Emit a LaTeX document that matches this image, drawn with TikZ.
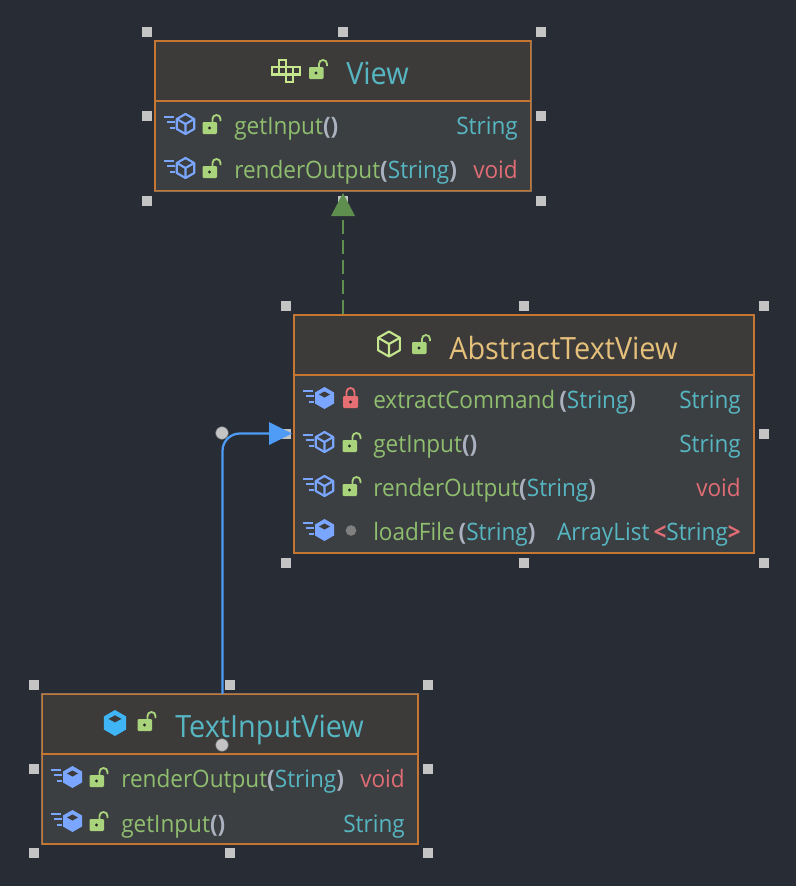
\documentclass[tikz,border=0pt]{standalone}
\usepackage{fontspec}
\setmainfont[FakeStretch=0.94]{Open Sans}
\usetikzlibrary{arrows.meta}
\definecolor{bgc}{HTML}{282C34}
\definecolor{headc}{HTML}{3C3B3A}
\definecolor{bodyc}{HTML}{3C3F41}
\definecolor{edgec}{HTML}{C57633}
\definecolor{dimedge}{HTML}{8F7158}
\definecolor{handlec}{HTML}{C4C4C4}
\definecolor{lockc}{HTML}{A9D47C}
\definecolor{lockred}{HTML}{E76F74}
\definecolor{methc}{HTML}{7BA6FF}
\definecolor{greenc}{HTML}{8FBE6F}
\definecolor{tealc}{HTML}{56B6C2}
\definecolor{redc}{HTML}{E06C75}
\definecolor{yelc}{HTML}{E5C07B}
\definecolor{parc}{HTML}{ABB2BF}
\definecolor{limec}{HTML}{C6E68E}
\definecolor{cubec}{HTML}{3FB5F5}
\definecolor{arrg}{HTML}{5F8F4E}
\definecolor{arrb}{HTML}{4E9CF5}
\newcommand{\fs}{\fontsize{18}{21}\selectfont}
\newcommand{\ft}{\fontsize{23}{27}\selectfont}
\newcommand{\G}[1]{\textcolor{greenc}{#1}}
\newcommand{\T}[1]{\textcolor{tealc}{#1}}
\newcommand{\R}[1]{\textcolor{redc}{\bfseries #1}}
\newcommand{\V}[1]{\textcolor{redc}{#1}}
\newcommand{\Pa}[1]{\textcolor{parc}{\bfseries #1}}
\tikzset{
  x=0.75pt,y=-0.75pt,
  classbox/.style={draw=edgec,line width=1.1pt,fill=bodyc,inner sep=0pt,minimum width=0pt},
  sepline/.style={draw=edgec,line width=1.5pt},
  handle/.style={fill=handlec,draw=none,minimum size=8pt,inner sep=0pt},
  dotnode/.style={circle,fill=handlec,draw=bgc!70!white,line width=.4pt,minimum size=9.5pt,inner sep=0pt},
  txt/.style={inner sep=0pt,anchor=base west,font=\fs},
  txtr/.style={inner sep=0pt,anchor=base east,font=\fs},
  titletxt/.style={inner sep=0pt,anchor=base west,font=\ft},
  pics/openlock/.style={code={
    \fill[lockc,rounded corners=.8pt] (-7.5,-3) rectangle (7,9);
    \draw[lockc,line width=1.4pt] (2.5,-3) -- (2.5,-6) arc[start angle=180,end angle=360,radius=4] -- (10.5,-4);
    \fill[headc!70!black] (-.5,3) circle[radius=1.7];
  }},
  pics/redlock/.style={code={
    \fill[lockred,rounded corners=.8pt] (-7.5,-3) rectangle (7.5,9);
    \draw[lockred,line width=1.4pt] (-4,-3) -- (-4,-7) arc[start angle=180,end angle=360,radius=4] -- (4,-3);
    \fill[headc!70!black] (0,3) circle[radius=1.7];
  }},
  pics/cubeout/.style={code={
    \draw[#1,line width=1.6pt,line join=round] (0,-10) -- (8.7,-5) -- (8.7,5) -- (0,10) -- (-8.7,5) -- (-8.7,-5) -- cycle;
    \draw[#1,line width=1.6pt,line join=round] (-8.7,-5) -- (0,0) -- (8.7,-5) (0,0) -- (0,10);
  }},
  pics/cubefill/.style={code={
    \fill[#1,line join=round] (0,-11) -- (9.5,-5.5) -- (9.5,5.5) -- (0,11) -- (-9.5,5.5) -- (-9.5,-5.5) -- cycle;
    \fill[headc] (0,-6.5) -- (5.5,-3.5) -- (0,-.5) -- (-5.5,-3.5) -- cycle;
  }},
  pics/bars/.style={code={
    \draw[methc,line width=1.5pt] (-21,-8) -- (-11,-8) (-18,-3) -- (-10,-3) (-15,3) -- (-10,3);
  }},
  pics/methout/.style={code={
    \pic at (0,0) {bars};
    \pic at (.5,-1) {cubeout=methc};
  }},
  pics/methfill/.style={code={
    \pic at (0,0) {bars};
    \pic at (.5,-1) {cubefill=methc};
  }},
  pics/iface/.style={code={
    \draw[limec,line width=1.7pt,fill=none]
      (-13,-3) rectangle (-6,4.5) (-6,-3) rectangle (1,4.5) (1,-3) rectangle (8,4.5)
      (8,-3) rectangle (15,4.5)
      (-6,-10) rectangle (1,-3)
      (1,4.5) rectangle (8,12);
  }}
}
\begin{document}
\begin{tikzpicture}
\useasboundingbox[fill=bgc] (0,0) rectangle (796,886);

% View
\node[classbox,minimum width=282pt,minimum height=112.5pt] (view) at (343,116) {};
\fill[headc] (155.7,41.7) rectangle (530.3,100);
\draw[sepline] (view.west |- 0,101) -- (view.east |- 0,101);
\draw[dimedge,line width=.8pt] (view.north east) -- (view.south east) -- (view.south west);
\pic at (285,70) {iface};
\pic at (316.5,70) {openlock};
\node[titletxt,text=tealc] (viewt) at (346,84) {View};
\pic at (185,125) {methout};
\pic at (210,125) {openlock};
\node[txt] (v1) at (234,134) {\G{getInput}\Pa{()}};
\node[txtr] (v1r) at (518,134) {\T{String}};
\pic at (185,169) {methout};
\pic at (210,169) {openlock};
\node[txt] (v2) at (234,178) {\G{renderOutput}\Pa{(}\T{String}\Pa{)}};
\node[txtr] (v2r) at (518,178) {\V{void}};

% AbstractTextView
\node[classbox,minimum width=345pt,minimum height=178.5pt] (abs) at (524,434) {};
\fill[headc] (294.7,315.7) rectangle (753.3,374);
\draw[sepline] (abs.west |- 0,375) -- (abs.east |- 0,375);
\pic[scale=1.25] at (389,344) {cubeout=limec};
\pic at (419.5,345) {openlock};
\node[titletxt,text=yelc] (abst) at (449,359) {AbstractTextView};
\pic at (324,399) {methfill};
\pic at (350.5,399) {redlock};
\node[txt] (a1) at (373,408) {\G{extractCommand}\,\Pa{(}\T{String}\Pa{)}};
\node[txtr] (a1r) at (741,408) {\T{String}};
\pic at (324,443) {methout};
\pic at (350,443) {openlock};
\node[txt] (a2) at (373,452) {\G{getInput}\Pa{()}};
\node[txtr] (a2r) at (741,452) {\T{String}};
\pic at (324,487) {methout};
\pic at (350,487) {openlock};
\node[txt] (a3) at (373,496) {\G{renderOutput}\Pa{(}\T{String}\Pa{)}};
\node[txtr] (a3r) at (741,496) {\V{void}};
\pic at (324,531) {methfill};
\fill[gray] (351,530.5) circle[radius=5.3];
\node[txt] (a4) at (373,540) {\G{loadFile}\,\Pa{(}\T{String}\Pa{)}};
\node[txtr] (a4r) at (741,540) {\T{ArrayList}\,\R{<}\T{String}\R{>}};

% TextInputView
\node[classbox,minimum width=282pt,minimum height=112.5pt] (tiv) at (230,769) {};
\fill[headc] (42.7,694.7) rectangle (417.3,753);
\draw[dimedge,line width=.8pt] (tiv.south west) -- (tiv.north west) -- (tiv.north east);
\draw[sepline] (tiv.west |- 0,754) -- (tiv.east |- 0,754);
\pic[scale=1.18] at (115,723) {cubefill=cubec};
\pic at (145,722) {openlock};
\node[titletxt,text=tealc] (tivt) at (175,737) {TextInputView};
\pic at (72,778) {methfill};
\pic at (97,778) {openlock};
\node[txt] (t1) at (121,787) {\G{renderOutput}\Pa{(}\T{String}\Pa{)}};
\node[txtr] (t1r) at (405,787) {\V{void}};
\pic at (72,822) {methfill};
\pic at (97,822) {openlock};
\node[txt] (t2) at (121,832) {\G{getInput}\Pa{()}};
\node[txtr] (t2r) at (405,832) {\T{String}};

% handles
\foreach \n/\hx/\hy in {
 a/147/32,b/343/32,c/541/32,d/147/116,e/541/116,f/147/201,g/343/201,h/541/201,
 i/286/306,j/524/306,k/764/306,l/286/434,m/764/434,n/286/563,o/524/563,p/764/563,
 q/34/685,r/230/685,s/428/685,t/34/769,u/428/769,v/34/853,w/230/853,x/428/853}
  \node[handle] (h\n) at (\hx,\hy) {};

% connectors
\draw[arrg,line width=1.4pt,dash pattern=on 10.5pt off 4.5pt] (abs.north -| view.south) -- (343,212);
\fill[arrg] (343,193) -- (355,216) -- (331,216) -- cycle;
\coordinate (tivtop) at (222.5,694);
\node[dotnode] (dota) at (222,433) {};
\node[dotnode] (dotb) at (222,745) {};
\draw[arrb,line width=1.7pt,rounded corners=13pt] (tivtop) -- (222.5,433.5) -- (272,433.5);
\fill[arrb] (292,433.5) -- (269,422) -- (269,445) -- cycle;
\end{tikzpicture}
\end{document}
